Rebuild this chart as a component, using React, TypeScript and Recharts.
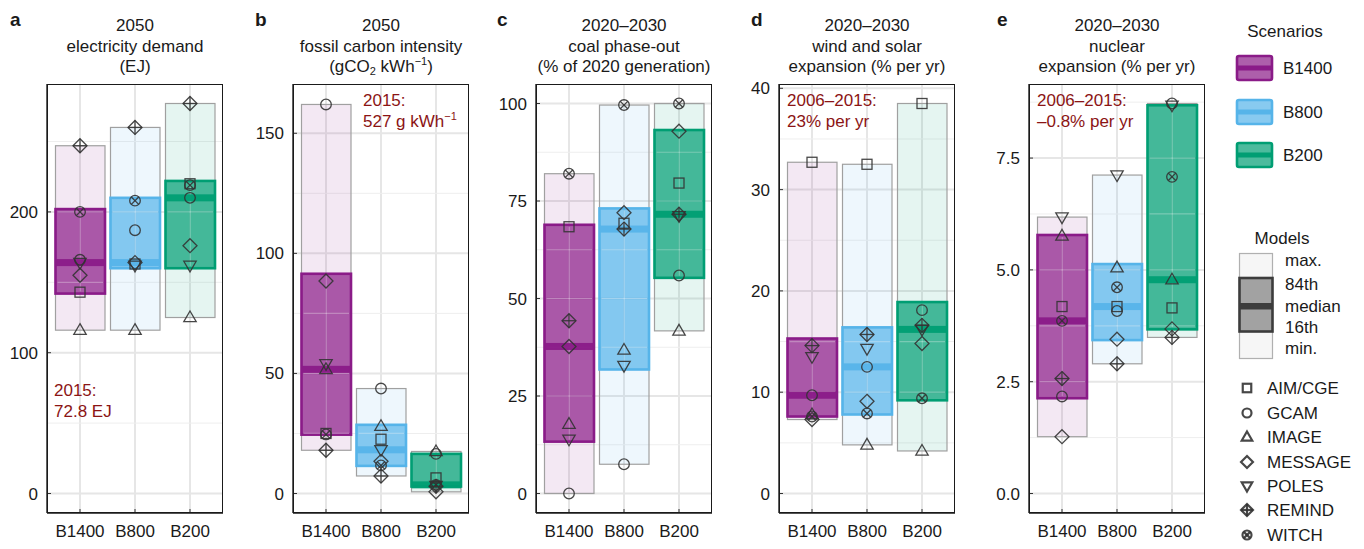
import React from "react";
import { ComposedChart, Bar, Scatter, XAxis, YAxis, CartesianGrid } from "recharts";

const scenarios = ["B1400", "B800", "B200"];
const models = ["AIM/CGE", "GCAM", "IMAGE", "MESSAGE", "POLES", "REMIND", "WITCH"];
const scenarioColors = ["#8A1B88", "#56B4E9", "#009E73"];

// model values, one row per model, columns B1400 / B800 / B200
const demandModels = [
  [143, 163, 220],
  [166, 187, 210],
  [116, 116, 125],
  [155, 164, 176],
  [164, 162, 162],
  [247, 260, 277],
  [200, 208, 219],
];
// per scenario: min, 16th, median, 84th, max
const demandBox = [
  [116, 142, 164, 202, 247],
  [116, 160, 164, 210, 260],
  [125, 160, 210, 222, 277],
];

const carbonModels = [
  [25, 22.6, 6.5],
  [162, 43.7, 16.5],
  [51.7, 28, 17.5],
  [88.5, 13.4, 0.7],
  [54, 18.2, 3.3],
  [18, 7.3, 3],
  [24.6, 11.7, 3.6],
];
const carbonBox = [
  [18, 24.5, 51.7, 91.5, 162],
  [7.3, 11.5, 18.2, 28.6, 43.7],
  [0.7, 2.9, 3.6, 16.5, 17.5],
];

const coalModels = [
  [68.4, 69.3, 79.6],
  [0, 7.5, 55.9],
  [17.8, 36.8, 41.7],
  [37.7, 72, 92.9],
  [13.9, 32.8, 71.2],
  [44.3, 67.8, 71.6],
  [82, 99.6, 100],
];
const coalBox = [
  [0, 13.3, 37.7, 68.9, 82],
  [7.5, 31.8, 67.8, 73.1, 99.6],
  [41.7, 55.3, 71.6, 93.2, 100],
];

const windModels = [
  [32.7, 32.5, 38.5],
  [9.7, 12.5, 18.1],
  [7.8, 4.8, 4.2],
  [7.3, 9.1, 14.8],
  [13.5, 14.3, 16.2],
  [14.6, 15.7, 16.6],
  [7.6, 7.9, 9.4],
];
const windBox = [
  [7.3, 7.6, 9.7, 15.3, 32.7],
  [4.8, 7.8, 12.5, 16.4, 32.5],
  [4.2, 9.2, 16.2, 18.9, 38.5],
];

const nuclearModels = [
  [4.18, 4.18, 4.15],
  [2.17, 4.08, 8.72],
  [5.76, 5.05, 4.78],
  [1.27, 3.45, 3.68],
  [6.18, 7.12, 8.68],
  [2.57, 2.9, 3.49],
  [3.86, 4.61, 7.08],
];
const nuclearBox = [
  [1.27, 2.13, 3.86, 5.78, 6.18],
  [2.9, 3.43, 4.18, 5.13, 7.12],
  [3.49, 3.67, 4.78, 8.68, 8.72],
];

const demandTicks = [0, 100, 200];
const carbonTicks = [0, 50, 100, 150];
const coalTicks = [0, 25, 50, 75, 100];
const windTicks = [0, 10, 20, 30, 40];
const nuclearTicks = [0, 2.5, 5, 7.5];

const demandMinor = [50, 150, 250];
const carbonMinor = [25, 75, 125];
const coalMinor = [12.5, 37.5, 62.5, 87.5];
const windMinor = [5, 15, 25, 35];
const nuclearMinor = [1.25, 3.75, 6.25, 8.75];

const AXIS_W = 45;
const PLOT_W = 176;
const PLOT_TOP = 84;
const PLOT_H = 429;
const FONT = "'Liberation Sans', Arial, Helvetica, sans-serif";
const MARK = "#333333";
const NOTE = "#8B1414";

const sub = (t: string) => <sub style={{ fontSize: 11, verticalAlign: "-3px", lineHeight: 0 }}>{t}</sub>;
const sup = (t: string) => <sup style={{ fontSize: 11, verticalAlign: "7px", lineHeight: 0 }}>{t}</sup>;

const panels = [
  {
    letter: "a", letterX: 10, left: 47, data: demandModels, box: demandBox, ticks: demandTicks, minor: demandMinor,
    domain: [-13.85, 290.85], title: ["2050", "electricity demand", "(EJ)"],
    note: [<>2015:</>, <>72.8 EJ</>], noteX: 54, noteY: 381,
  },
  {
    letter: "b", letterX: 255, left: 293, data: carbonModels, box: carbonBox, ticks: carbonTicks, minor: carbonMinor,
    domain: [-8.12, 170.52], title: ["2050", "fossil carbon intensity", <>(gCO{sub("2")} kWh{sup("−1")})</>],
    note: [<>2015:</>, <>527 g kWh{sup("−1")}</>], noteX: 363, noteY: 91,
  },
  {
    letter: "c", letterX: 497, left: 536, data: coalModels, box: coalBox, ticks: coalTicks, minor: coalMinor,
    domain: [-5, 105], title: ["2020–2030", "coal phase-out", "(% of 2020 generation)"],
    note: null, noteX: 0, noteY: 0,
  },
  {
    letter: "d", letterX: 751, left: 779, data: windModels, box: windBox, ticks: windTicks, minor: windMinor,
    domain: [-1.925, 40.425], title: ["2020–2030", "wind and solar", "expansion (% per yr)"],
    note: [<>2006–2015:</>, <>23% per yr</>], noteX: 787, noteY: 91,
  },
  {
    letter: "e", letterX: 997, left: 1029, data: nuclearModels, box: nuclearBox, ticks: nuclearTicks, minor: nuclearMinor,
    domain: [-0.436, 9.156], title: ["2020–2030", "nuclear", "expansion (% per yr)"],
    note: [<>2006–2015:</>, <>–0.8% per yr</>], noteX: 1037, noteY: 91,
    fmt: (v: number) => v.toFixed(1),
  },
];

function buildRows(vals: number[][], box: number[][]) {
  return scenarios.map((s, i) => {
    const row: any = {
      scen: s, idx: i,
      min: box[i][0], p16: box[i][1], med: box[i][2], p84: box[i][3], max: box[i][4],
    };
    models.forEach((_, j) => (row[`m${j}`] = vals[j][i]));
    return row;
  });
}

function Marker({ cx, cy, kind, sw = 1.3, k = 1 }: any) {
  const common = { fill: "none", stroke: MARK, strokeWidth: sw, strokeOpacity: 0.9 };
  const r = 5.3 * k;
  switch (kind) {
    case 0:
      return <rect x={cx - 5 * k} y={cy - 5 * k} width={10 * k} height={10 * k} {...common} />;
    case 1:
      return <circle cx={cx} cy={cy} r={r} {...common} />;
    case 2:
      return <polygon points={`${cx},${cy - 6.5 * k} ${cx + 6.2 * k},${cy + 4.2 * k} ${cx - 6.2 * k},${cy + 4.2 * k}`} {...common} />;
    case 3:
      return <polygon points={`${cx},${cy - 7 * k} ${cx + 7 * k},${cy} ${cx},${cy + 7 * k} ${cx - 7 * k},${cy}`} {...common} />;
    case 4:
      return <polygon points={`${cx},${cy + 6.5 * k} ${cx + 6.2 * k},${cy - 4.2 * k} ${cx - 6.2 * k},${cy - 4.2 * k}`} {...common} />;
    case 5:
      return (
        <g {...common}>
          <polygon points={`${cx},${cy - 7 * k} ${cx + 7 * k},${cy} ${cx},${cy + 7 * k} ${cx - 7 * k},${cy}`} />
          <line x1={cx} y1={cy - 7 * k} x2={cx} y2={cy + 7 * k} />
          <line x1={cx - 7 * k} y1={cy} x2={cx + 7 * k} y2={cy} />
        </g>
      );
    default:
      return (
        <g {...common}>
          <circle cx={cx} cy={cy} r={r} />
          <line x1={cx - 3.7 * k} y1={cy - 3.7 * k} x2={cx + 3.7 * k} y2={cy + 3.7 * k} />
          <line x1={cx - 3.7 * k} y1={cy + 3.7 * k} x2={cx + 3.7 * k} y2={cy - 3.7 * k} />
        </g>
      );
  }
}

function BoxShape(props: any) {
  const { x, y, width, height, payload, gridVals } = props;
  if (x == null || !payload) return null;
  const color = scenarioColors[payload.idx];
  const ppu = height / (payload.max - payload.min || 1);
  const yOf = (v: number) => y + (payload.max - v) * ppu;
  const top = yOf(payload.p84);
  const bot = yOf(payload.p16);
  const inside = gridVals.filter((v: number) => v > payload.p16 && v < payload.p84);
  return (
    <g>
      <rect x={x} y={y} width={width} height={height} fill={color} fillOpacity={0.1} stroke="#A0A0A0" strokeWidth={1.2} />
      <rect x={x} y={top} width={width} height={bot - top} fill={color} fillOpacity={0.7} stroke={color} strokeWidth={2.6} />
      <line x1={x + width / 2} x2={x + width / 2} y1={top + 2} y2={bot - 2} stroke="#fff" strokeOpacity={0.3} strokeWidth={1.2} />
      {inside.map((v: number) => (
        <line key={v} x1={x + 2} x2={x + width - 2} y1={yOf(v)} y2={yOf(v)} stroke="#fff" strokeOpacity={0.3} strokeWidth={1.2} />
      ))}
      <rect x={x} y={yOf(payload.med) - 3.5} width={width} height={7} fill={color} fillOpacity={0.95} />
    </g>
  );
}

function Panel({ cfg }: any) {
  const rows = buildRows(cfg.data, cfg.box);
  const gridVals = [...cfg.ticks, ...cfg.minor];
  const border = { stroke: "#1a1a1a", strokeWidth: 1.3 };
  return (
    <div style={{ position: "absolute", left: cfg.left - AXIS_W, top: 0 }}>
      <ComposedChart width={AXIS_W + PLOT_W} height={549} data={rows} margin={{ top: PLOT_TOP, right: 0, bottom: 0, left: 0 }}>
        <CartesianGrid stroke="#E6E6E6" strokeWidth={2} horizontalValues={cfg.ticks} />
        <CartesianGrid stroke="#EEEEEE" strokeWidth={1} vertical={false} horizontalValues={cfg.minor} />
        <XAxis
          dataKey="scen"
          type="category"
          height={36}
          interval={0}
          padding={{ left: 5.5, right: 5.5 }}
          tickSize={-4}
          tickMargin={16}
          tickLine={{ stroke: "#333" }}
          axisLine={border}
          tick={{ fontSize: 17, fill: "#1a1a1a" }}
        />
        <YAxis
          type="number"
          domain={cfg.domain}
          ticks={cfg.ticks}
          allowDataOverflow
          width={AXIS_W}
          tickSize={-4}
          tickMargin={13}
          tickLine={{ stroke: "#333" }}
          axisLine={border}
          tick={{ fontSize: 17, fill: "#1a1a1a" }}
          tickFormatter={cfg.fmt}
        />
        <Bar
          dataKey={(d: any) => [d.min, d.max]}
          barSize={49.5}
          isAnimationActive={false}
          shape={(p: any) => <BoxShape {...p} gridVals={gridVals} />}
        />
        {models.map((m, j) => (
          <Scatter
            key={m}
            name={m}
            dataKey={`m${j}`}
            isAnimationActive={false}
            shape={(p: any) => <Marker cx={p.cx} cy={p.cy} kind={j} />}
          />
        ))}
      </ComposedChart>
      {/* panel frame */}
      <div
        style={{
          position: "absolute", left: AXIS_W, top: PLOT_TOP, width: PLOT_W, height: PLOT_H,
          border: "1.3px solid #1a1a1a", boxSizing: "border-box", pointerEvents: "none",
        }}
      />
    </div>
  );
}

function Legend() {
  const swY = [56, 100, 143];
  const modelY = [388, 413, 437, 462, 486, 510, 535];
  const statY = [260.5, 284, 306, 327, 348];
  const statLabels = ["max.", "84th", "median", "16th", "min."];
  const txt = { fontSize: 17, fill: "#1a1a1a", dominantBaseline: "central" as const };
  return (
    <svg width={1364} height={549} style={{ position: "absolute", left: 0, top: 0, pointerEvents: "none" }}>
      <text x={1285} y={31} textAnchor="middle" {...txt}>Scenarios</text>
      {scenarios.map((s, i) => (
        <g key={s}>
          <rect x={1237} y={swY[i]} width={35} height={24} rx={2} fill={scenarioColors[i]} fillOpacity={0.7} stroke={scenarioColors[i]} strokeWidth={2.6} />
          <rect x={1237} y={swY[i] + 9.5} width={35} height={5} fill={scenarioColors[i]} />
          <text x={1283} y={swY[i] + 12} {...txt}>{s}</text>
        </g>
      ))}
      <text x={1282} y={238} textAnchor="middle" {...txt}>Models</text>
      <rect x={1239.5} y={253.5} width={33} height={105} fill="#F6F6F6" stroke="#B0B0B0" strokeWidth={1.2} />
      <rect x={1239.5} y={278} width={33} height={53.5} fill="#A2A2A2" stroke="#3C3C3C" strokeWidth={2.6} />
      <rect x={1239.5} y={303} width={33} height={6.5} fill="#3C3C3C" />
      {statLabels.map((l, i) => (
        <text key={l} x={1285} y={statY[i]} {...txt}>{l}</text>
      ))}
      {models.map((m, j) => (
        <g key={m}>
          <Marker cx={1247} cy={modelY[j]} kind={j} sw={2.2} k={0.85} />
          <text x={1267} y={modelY[j]} {...txt}>{m}</text>
        </g>
      ))}
    </svg>
  );
}

export default function App() {
  return (
    <div style={{ position: "absolute", left: 0, top: 0, width: 1364, height: 549, background: "#fff", fontFamily: FONT, color: "#1a1a1a" }}>
      {panels.map((p) => (
        <React.Fragment key={p.letter}>
          <div style={{ position: "absolute", left: p.letterX, top: 9, fontSize: 19, fontWeight: "bold", lineHeight: "22px" }}>
            {p.letter}
          </div>
          <div style={{ position: "absolute", left: p.left + PLOT_W / 2 - 150, width: 300, top: 16, textAlign: "center", fontSize: 17, lineHeight: "20.5px", whiteSpace: "nowrap" }}>
            {p.title.map((t, i) => (
              <div key={i}>{t}</div>
            ))}
          </div>
          <Panel cfg={p} />
          {p.note && (
            <div style={{ position: "absolute", left: p.noteX, top: p.noteY, fontSize: 17, lineHeight: "20.5px", color: NOTE, whiteSpace: "nowrap" }}>
              {p.note.map((t, i) => (
                <div key={i}>{t}</div>
              ))}
            </div>
          )}
        </React.Fragment>
      ))}
      <Legend />
    </div>
  );
}
